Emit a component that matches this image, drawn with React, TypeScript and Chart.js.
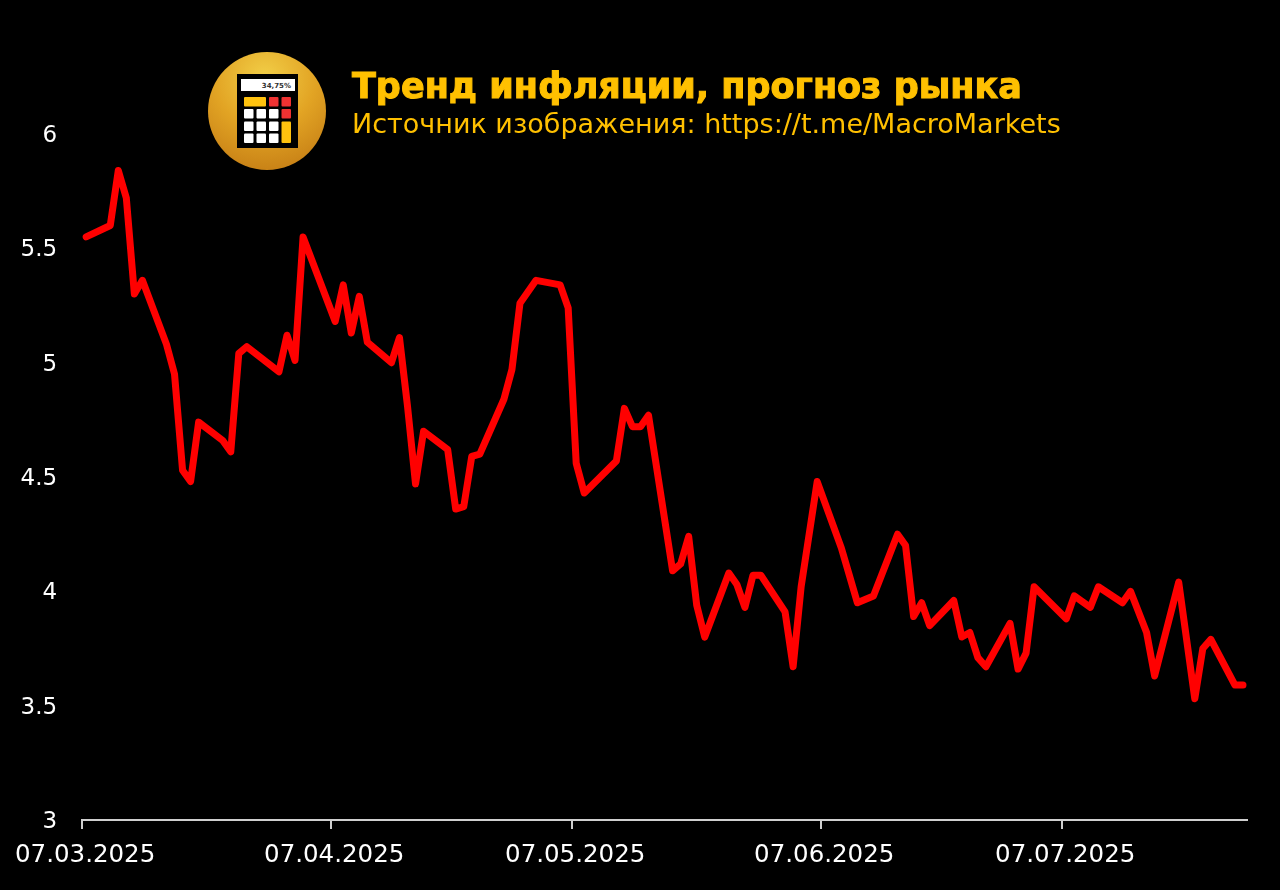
import React, { useEffect, useRef } from "react";
import { Chart, registerables } from "chart.js";

Chart.register(...registerables);

const days = [0, 3, 4, 5, 6, 7, 10, 11, 12, 13, 14, 17, 18, 19, 20, 24, 25, 26, 27, 31, 32, 33, 34, 35, 38, 39, 40, 41, 42, 45, 46, 47, 48, 49, 52, 53, 54, 56, 59, 60, 61, 62, 66, 67, 68, 69, 70, 73, 74, 75, 76, 77, 80, 81, 82, 83, 84, 87, 88, 89, 91, 94, 95, 96, 98, 101, 102, 103, 104, 105, 108, 109, 110, 111, 112, 115, 116, 117, 118, 122, 123, 125, 126, 129, 130, 132, 133, 136, 138, 139, 140, 143, 144];
const inflation = [5.55, 5.6, 5.84, 5.72, 5.3, 5.36, 5.08, 4.95, 4.53, 4.48, 4.74, 4.66, 4.61, 5.04, 5.07, 4.96, 5.12, 5.01, 5.55, 5.18, 5.34, 5.13, 5.29, 5.09, 5.0, 5.11, 4.81, 4.47, 4.7, 4.62, 4.36, 4.37, 4.59, 4.6, 4.84, 4.97, 5.26, 5.36, 5.34, 5.24, 4.56, 4.43, 4.57, 4.8, 4.72, 4.72, 4.77, 4.09, 4.12, 4.24, 3.94, 3.8, 4.08, 4.03, 3.93, 4.07, 4.07, 3.91, 3.67, 4.02, 4.48, 4.19, 4.07, 3.95, 3.98, 4.25, 4.2, 3.89, 3.95, 3.85, 3.96, 3.8, 3.82, 3.71, 3.67, 3.86, 3.66, 3.73, 4.02, 3.88, 3.98, 3.93, 4.02, 3.95, 4.0, 3.82, 3.63, 4.04, 3.53, 3.75, 3.79, 3.59, 3.59];
const tickDays = [0, 31, 61, 92, 122];
const tickLabels = ["07.03.2025", "07.04.2025", "07.05.2025", "07.06.2025", "07.07.2025"];
const titleText = "Тренд инфляции, прогноз рынка";
const subtitleText = "Источник изображения: https://t.me/MacroMarkets";

const FONT = "'DejaVu Sans', sans-serif";

export default function App() {
  const ref = useRef<HTMLCanvasElement>(null);
  useEffect(() => {
    document.body.style.margin = "0";
    document.body.style.background = "#000";
    const chart = new Chart(ref.current!, {
      type: "line",
      data: {
        datasets: [
          {
            data: days.map((d, i) => ({ x: d, y: inflation[i] })),
            borderColor: "#ff0000",
            borderWidth: 7,
            borderJoinStyle: "round",
            borderCapStyle: "round",
            pointRadius: 0,
            tension: 0,
          },
        ],
      },
      options: {
        animation: false,
        responsive: false,
        devicePixelRatio: 1,
        layout: { padding: { left: 0, right: 33, top: 134, bottom: 0 } },
        plugins: { legend: { display: false }, title: { display: false }, tooltip: { enabled: false } },
        scales: {
          x: {
            type: "linear",
            min: -0.5,
            max: 144.5,
            afterBuildTicks: (s: any) => {
              s.ticks = tickDays.map((d) => ({ value: d - 0.5 }));
            },
            afterFit: (s: any) => {
              s.height = 70;
            },
            grid: { drawOnChartArea: false, color: "#cfcfcf", lineWidth: 2, tickLength: 9, drawTicks: true },
            border: { color: "#cfcfcf", width: 2 },
            ticks: {
              autoSkip: false,
              maxRotation: 0,
              minRotation: 0,
              labelOffset: 3,
              padding: 12,
              color: "#ffffff",
              font: { family: FONT, size: 24.5, weight: "400" },
              callback: (_v: any, i: number) => tickLabels[i],
            },
          },
          y: {
            min: 3,
            max: 6,
            afterFit: (s: any) => {
              s.width = 80.4;
            },
            grid: { display: false },
            border: { display: false },
            ticks: {
              stepSize: 0.5,
              padding: 17,
              labelOffset: 2,
              color: "#ffffff",
              font: { family: FONT, size: 23, weight: "400" },
              callback: (v: any) => String(v),
            },
          },
        },
      },
    } as any);
    return () => chart.destroy();
  }, []);

  const whites = [
    [244, 109], [256.5, 109], [269, 109],
    [244, 121.5], [256.5, 121.5], [269, 121.5],
    [244, 133.5], [256.5, 133.5], [269, 133.5],
  ];
  return (
    <div style={{ position: "relative", width: 1280, height: 890, background: "#000", overflow: "hidden" }}>
      <canvas ref={ref} width={1280} height={890} style={{ position: "absolute", left: 0, top: 0, display: "block" }} />
      <svg width={135} height={135} viewBox="200 45 135 135" style={{ position: "absolute", left: 200, top: 45 }}>
        <defs>
          <radialGradient id="gold" cx="48%" cy="22%" r="85%">
            <stop offset="0%" stopColor="#f2cf48" />
            <stop offset="50%" stopColor="#e2a424" />
            <stop offset="100%" stopColor="#c47c14" />
          </radialGradient>
        </defs>
        <circle cx={267} cy={111} r={59} fill="url(#gold)" />
        <rect x={237} y={74} width={61} height={74} fill="#000" />
        <rect x={241} y={79} width={54} height={12} fill="#fff" />
        <text x={291} y={88} textAnchor="end" fontSize={7} fontWeight={700} fontFamily={FONT} fill="#333">34,75%</text>
        <rect x={244} y={97} width={22} height={9.5} rx={1} fill="#ffc20e" />
        <rect x={269} y={97} width={9.5} height={9.5} rx={1} fill="#ef3232" />
        <rect x={281.5} y={97} width={9.5} height={9.5} rx={1} fill="#ef3232" />
        <rect x={281.5} y={109} width={9.5} height={9.5} rx={1} fill="#ef3232" />
        <rect x={281.5} y={121.5} width={9.5} height={21.5} rx={1} fill="#ffc20e" />
        {whites.map(([x, y]) => (
          <rect key={`${x}-${y}`} x={x} y={y} width={9.5} height={9.5} rx={1} fill="#fff" />
        ))}
      </svg>
      <div style={{ position: "absolute", left: 352, top: 64, fontFamily: FONT, fontWeight: 700, fontSize: 35, lineHeight: "44px", color: "#ffc000", whiteSpace: "nowrap", WebkitTextStroke: "1px #ffc000" }}>
        {titleText}
      </div>
      <div style={{ position: "absolute", left: 352, top: 107, fontFamily: FONT, fontWeight: 400, fontSize: 27, lineHeight: "34px", color: "#ffc000", whiteSpace: "nowrap" }}>
        {subtitleText}
      </div>
    </div>
  );
}
